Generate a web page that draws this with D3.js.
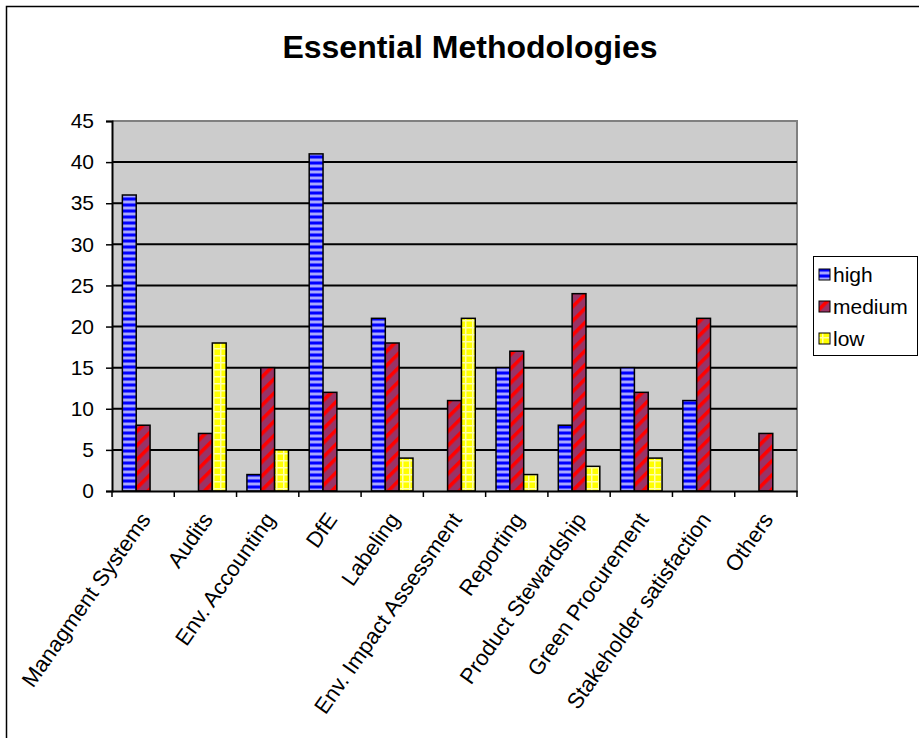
<!DOCTYPE html>
<html>
<head>
<meta charset="utf-8">
<script src="https://cdn.jsdelivr.net/npm/d3@7"></script>
<style>
  html, body { margin: 0; padding: 0; background: #fff; }
  svg { display: block; font-family: "Liberation Sans", Arial, sans-serif; }
</style>
</head>
<body>
<svg id="chart" width="919" height="738"></svg>
<script>
// Survey results: how essential each methodology is rated
const categories = [
  "Managment Systems", "Audits", "Env. Accounting", "DfE", "Labeling",
  "Env. Impact Assessment", "Reporting", "Product Stewardship",
  "Green Procurement", "Stakeholder satisfaction", "Others"
];
const seriesNames = ["high", "medium", "low"];
const highValues   = [36, 0, 2, 41, 21, 0, 15, 8, 15, 11, 0];
const mediumValues = [8, 7, 15, 12, 18, 11, 17, 24, 12, 21, 7];
const lowValues    = [0, 18, 5, 0, 4, 21, 2, 3, 4, 0, 0];
const yTicks = [0, 5, 10, 15, 20, 25, 30, 35, 40, 45];
const titleText = "Essential Methodologies";

const svg = d3.select("#chart");

// ---- fill patterns for the three series ----
const defs = svg.append("defs");

// high: horizontal blue / light-blue bands
const pHigh = defs.append("pattern").attr("id", "pat-high")
  .attr("patternUnits", "userSpaceOnUse").attr("width", 8).attr("height", 6);
[["#0000ff", 0, 2], ["#5050ff", 2, 1], ["#a8a8ff", 3, 2], ["#5050ff", 5, 1]]
  .forEach(([c, y, h]) => pHigh.append("rect").attr("x", 0).attr("y", y)
    .attr("width", 8).attr("height", h).attr("fill", c));

// medium: plum ground with red diagonal stripes
const pMed = defs.append("pattern").attr("id", "pat-medium")
  .attr("patternUnits", "userSpaceOnUse").attr("width", 10).attr("height", 10)
  .attr("patternTransform", "rotate(-45)");
pMed.append("rect").attr("width", 10).attr("height", 10).attr("fill", "#993366");
pMed.append("rect").attr("x", 0).attr("y", 0).attr("width", 10).attr("height", 3.6).attr("fill", "#ff0000");

// low: yellow with a pale lattice
const pLow = defs.append("pattern").attr("id", "pat-low")
  .attr("patternUnits", "userSpaceOnUse").attr("width", 7).attr("height", 7);
pLow.append("rect").attr("width", 7).attr("height", 7).attr("fill", "#ffff00");
pLow.append("rect").attr("x", 0).attr("y", 5).attr("width", 7).attr("height", 1.5).attr("fill", "#ffffa8");
pLow.append("rect").attr("x", 3).attr("y", 0).attr("width", 1.5).attr("height", 7).attr("fill", "#ffffa8");

const fills = { high: "url(#pat-high)", medium: "url(#pat-medium)", low: "url(#pat-low)" };

// ---- outer frame ----
svg.append("rect").attr("x", 6.5).attr("y", 6.5)
  .attr("width", 1000).attr("height", 1000)
  .attr("fill", "#fff").attr("stroke", "#000").attr("stroke-width", 1.5);

// ---- title ----
svg.append("text").attr("x", 470).attr("y", 58)
  .attr("text-anchor", "middle").attr("font-weight", "bold")
  .attr("font-size", 32).text(titleText);

// ---- plot area ----
const plot = { left: 112, right: 797, top: 121, bottom: 491 };

const x = d3.scaleBand().domain(categories).range([plot.left, plot.right]).padding(0);
const y = d3.scaleLinear().domain([0, 45]).range([plot.bottom, plot.top]);

svg.append("rect").attr("x", plot.left).attr("y", plot.top)
  .attr("width", plot.right - plot.left).attr("height", plot.bottom - plot.top)
  .attr("fill", "#cccccc");

// plot area top/right border
svg.append("path")
  .attr("d", `M${plot.left},${plot.top}H${plot.right}V${plot.bottom}`)
  .attr("fill", "none").attr("stroke", "#808080").attr("stroke-width", 2);

// horizontal gridlines
svg.append("g").selectAll("line").data(yTicks.filter(t => t > 0 && t < 45)).join("line")
  .attr("x1", plot.left).attr("x2", plot.right)
  .attr("y1", d => y(d)).attr("y2", d => y(d))
  .attr("stroke", "#000").attr("stroke-width", 2);

// ---- bars ----
const seriesData = { high: highValues, medium: mediumValues, low: lowValues };
const barW = x.bandwidth() / 4.5;           // 150% gap between groups
const inner = d3.scaleBand().domain(seriesNames)
  .range([x.bandwidth() * 0.75 / 4.5, x.bandwidth() * 0.75 / 4.5 + 3 * barW]).padding(0);

const rows = [];
categories.forEach((c, i) => seriesNames.forEach(s => {
  rows.push({ cat: c, series: s, value: seriesData[s][i] });
}));

svg.append("g").selectAll("rect").data(rows.filter(d => d.value > 0)).join("rect")
  .attr("x", d => x(d.cat) + inner(d.series))
  .attr("y", d => y(d.value))
  .attr("width", inner.bandwidth())
  .attr("height", d => y(0) - y(d.value))
  .attr("fill", d => fills[d.series])
  .attr("stroke", "#000").attr("stroke-width", 1.5);

// ---- axes ----
const yAxis = svg.append("g").attr("transform", `translate(${plot.left},0)`)
  .call(d3.axisLeft(y).tickValues(yTicks).tickSize(6).tickPadding(12));
yAxis.select(".domain").attr("stroke", "#000").attr("stroke-width", 2);
yAxis.selectAll(".tick line").attr("stroke", "#000").attr("stroke-width", 1.5);
yAxis.selectAll(".tick text").attr("font-size", 21)
  .attr("font-family", "'Liberation Sans', Arial, sans-serif").attr("fill", "#000");

const xAxis = svg.append("g").attr("transform", `translate(0,${plot.bottom})`)
  .call(d3.axisBottom(x).tickSize(0).tickFormat(d => d));
xAxis.select(".domain").attr("stroke", "#000").attr("stroke-width", 2);
xAxis.selectAll(".tick text")
  .attr("font-size", 22)
  .attr("font-family", "'Liberation Sans', Arial, sans-serif").attr("fill", "#000")
  .attr("text-anchor", "end")
  .attr("transform", "translate(2,24) rotate(-55)")
  .attr("dy", "0.35em").attr("y", 0).attr("x", 0);

// category boundary ticks
const boundaries = categories.map(c => x(c)).concat([plot.right]);
svg.append("g").selectAll("line").data(boundaries).join("line")
  .attr("x1", d => d).attr("x2", d => d)
  .attr("y1", plot.bottom).attr("y2", plot.bottom + 6)
  .attr("stroke", "#000").attr("stroke-width", 1.5);

// ---- legend ----
const legend = svg.append("g");
legend.append("rect").attr("x", 813.5).attr("y", 256.5)
  .attr("width", 104).attr("height", 99)
  .attr("fill", "#fff").attr("stroke", "#000").attr("stroke-width", 1);
const ly = d3.scalePoint().domain(seriesNames).range([275, 339]);
const item = legend.selectAll("g.item").data(seriesNames).join("g")
  .attr("class", "item").attr("transform", d => `translate(819,${ly(d)})`);
item.append("rect").attr("x", 0).attr("y", -6).attr("width", 11).attr("height", 11)
  .attr("fill", d => fills[d]).attr("stroke", "#000").attr("stroke-width", 1);
item.append("text").attr("x", 14).attr("y", 0).attr("dy", "0.35em")
  .attr("font-size", 21).text(d => d);
</script>
</body>
</html>
